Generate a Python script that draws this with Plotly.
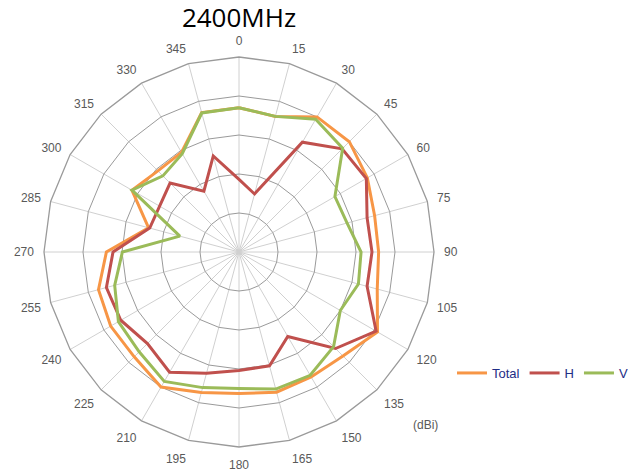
import plotly.graph_objects as go

angles = [str(a) for a in range(0, 360, 15)]

total = [-3, -4, 0, 0, -2, -4, -4.2, -3.3, 1, -2.3, -3, -2.8,
         -3.7, -2.7, 0, -2, -2, -2.7, -6, -16, -8.3, -10.6, -10.5, -3]
h_pol = [-21.4, -24.6, -7.5, -2.6, -2.3, -6, -5.9, -6, 0.6, -5, -15, -9.8,
         -9.6, -7.8, -4.4, -6.8, -5, -4.8, -7.7, -16.3, -16.5, -15, -22, -14.5]
v_pol = [-3, -4, -0.7, -2.4, -11.6, -11.3, -8.7, -8.3, -10, -5.7, -3.5, -3.6,
         -5, -4, -1.7, -3.8, -4.3, -7, -10.1, -24.3, -8.3, -12.4, -10.9, -3.1]

r_ticks = [-40, -30, -20, -10, 0, 10]
series = [("Total", total, "#F79646"), ("H", h_pol, "#C0504D"), ("V", v_pol, "#9BBB59")]

fig = go.Figure()
for name, vals, col in series:
    fig.add_trace(go.Scatterpolar(
        r=vals + vals[:1], theta=angles + angles[:1], mode="lines", name=name,
        line=dict(color=col, width=3), hoverinfo="skip"))

fig.add_trace(go.Scatterpolar(
    r=r_ticks, theta=[angles[0]] * len(r_ticks), mode="text",
    text=[str(t) for t in r_ticks], textposition="middle center",
    textfont=dict(color="#595959", size=12, family="Liberation Sans"),
    showlegend=False, hoverinfo="skip"))

fig.update_layout(
    width=628, height=473,
    margin=dict(l=0, r=0, t=0, b=0, autoexpand=False),
    paper_bgcolor="white", plot_bgcolor="white",
    title=dict(text="2400MHz", x=239/628, xanchor="center", y=1-17.5/473, yanchor="middle",
               font=dict(family="Open Sans", size=26, color="black")),
    polar=dict(
        domain=dict(x=[44/628, 434/628], y=[1-447/473, 1-57/473]),
        gridshape="linear",
        bgcolor="white",
        angularaxis=dict(
            type="category", categoryarray=angles, direction="clockwise", rotation=90,
            showgrid=True, gridcolor="#D0D0D0", gridwidth=1,
            showline=True, linecolor="#9A9A9A", linewidth=1.3,
            ticks="outside", ticklen=7, tickcolor="rgba(0,0,0,0)",
            tickfont=dict(color="#595959", size=12, family="Liberation Sans")),
        radialaxis=dict(
            range=[-40, 10], tickvals=r_ticks, showticklabels=False, ticks="",
            showline=False, showgrid=True, gridcolor="#9A9A9A", gridwidth=1),
    ),
    legend=dict(orientation="h", x=1 + 5/628, xanchor="right", y=1-373/473, yanchor="middle",
                font=dict(color="#1F2D86", size=13, family="Liberation Sans"),
                itemwidth=30, tracegroupgap=0, bgcolor="rgba(0,0,0,0)"),
    annotations=[dict(text="(dBi)", x=425/628, y=1-425/473, xref="paper", yref="paper",
                      xanchor="center", yanchor="middle", showarrow=False,
                      font=dict(color="#595959", size=12, family="Liberation Sans"))],
)

fig.write_html("out.html", config={"displayModeBar": False},
               post_script="document.body.style.margin='0';")
